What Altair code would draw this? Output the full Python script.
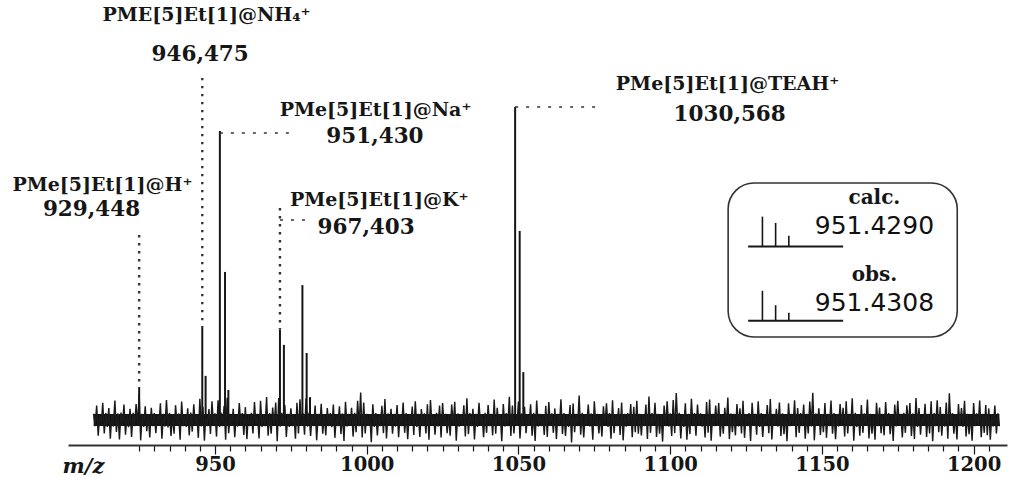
import altair as alt
import pandas as pd

# ---------------- data ----------------
# noise envelope, one value per m/z unit from 910 to 1208
noise_start = 910
noise_hi = [
    2.0, 4.6, 1.8, 5.5, 2.2, 3.8, 1.9, 6.2, 2.1, 2.4, 4.9, 1.7, 3.6, 2.3, 5.1, 8.4, 2.0, 4.4, 1.9, 3.9,
    2.2, 1.8, 5.3, 2.0, 6.4, 2.3, 1.9, 4.7, 2.1, 5.9, 1.8, 3.7, 2.4, 5.0, 1.9, 6.8, 4.2, 2.0, 3.5, 6.0,
    2.1, 6.3, 2.4, 4.5, 7.1, 2.0, 3.6, 1.8, 5.4, 2.2, 4.1, 1.9, 2.3, 5.7, 2.0, 6.1, 1.8, 7.3, 2.2, 4.0,
    5.6, 7.0, 2.3, 4.8, 2.0, 3.7, 1.9, 5.5, 6.6, 2.1, 6.9, 2.4, 1.8, 4.6, 2.0, 5.2, 1.9, 3.8, 2.2, 4.9,
    1.8, 4.4, 2.1, 5.8, 2.0, 3.9, 2.3, 6.1, 8.8, 5.6, 2.0, 1.9, 5.0, 2.2, 1.8, 4.5, 6.7, 2.1, 3.6, 2.0,
    4.8, 1.9, 5.6, 2.2, 1.8, 4.3, 6.0, 2.0, 3.5, 2.1, 5.0, 6.4, 1.9, 2.3, 4.6, 5.4, 2.0, 1.8, 4.9, 5.8,
    2.1, 1.9, 4.7, 6.9, 2.2, 3.6, 2.0, 5.5, 1.8, 2.3, 4.8, 2.0, 6.5, 3.9, 1.9, 5.1, 2.2, 7.4, 4.6, 2.0,
    5.9, 2.1, 4.2, 1.9, 5.0, 2.3, 6.2, 2.0, 1.8, 4.5, 5.7, 2.1, 3.7, 2.0, 6.6, 2.2, 1.9, 4.8, 5.3, 2.0,
    7.8, 2.3, 1.9, 4.9, 2.1, 6.0, 2.0, 1.8, 4.4, 5.3, 2.2, 6.3, 1.9, 3.8, 5.6, 2.0, 2.2, 5.1, 4.2, 6.1,
    2.0, 1.9, 4.9, 7.5, 2.2, 5.5, 2.0, 1.8, 4.6, 6.0, 2.1, 6.4, 8.6, 2.3, 1.9, 5.3, 2.0, 6.8, 2.2, 4.9,
    2.1, 1.9, 5.7, 6.5, 2.0, 4.6, 5.4, 1.8, 3.9, 7.2, 2.1, 2.0, 5.1, 3.7, 6.1, 1.9, 2.2, 5.5, 2.0, 6.0,
    2.2, 1.8, 4.8, 6.7, 2.0, 3.6, 5.6, 2.1, 1.9, 5.3, 2.0, 6.3, 3.8, 2.2, 4.9, 2.0, 5.9, 8.7, 2.1, 3.7,
    1.9, 5.4, 2.0, 6.2, 2.2, 1.8, 5.1, 3.9, 6.0, 2.0, 6.9, 2.3, 1.9, 4.8, 2.1, 6.5, 2.0, 1.8, 5.5, 4.0,
    2.0, 5.7, 2.2, 1.9, 4.9, 6.1, 2.0, 2.3, 4.7, 5.4, 2.1, 7.0, 3.8, 1.9, 5.2, 2.0, 6.0, 2.2, 6.3, 4.1,
    2.0, 5.6, 8.5, 2.2, 1.9, 5.1, 3.8, 6.1, 2.0, 1.8, 5.4, 2.1, 6.2, 2.0, 4.8, 3.7, 1.9, 4.6, 2.1,
]
noise_lo = [
    -2.0, -5.0, -1.9, -4.3, -2.2, -6.0, -2.1, -3.8, -6.2, -1.9, -4.7, -2.3, -5.4, -2.0, -1.8, -6.5, -2.2, -3.6, -5.6, -2.0,
    -4.2, -1.9, -6.0, -2.1, -2.4, -5.1, -4.4, -1.8, -6.3, -2.0, -2.2, -4.9, -3.7, -1.9, -5.7, -2.1, -6.6, -2.0, -4.5, -1.8,
    -5.3, -2.2, -2.0, -6.3, -4.2, -1.9, -5.5, -2.1, -1.8, -4.8, -6.1, -2.0, -4.3, -1.9, -5.9, -2.2, -2.0, -5.0, -4.4, -1.9,
    -6.8, -2.1, -1.9, -5.4, -2.2, -2.0, -6.0, -4.3, -1.8, -4.7, -2.1, -5.1, -2.0, -6.5, -1.9, -4.4, -4.9, -2.0, -2.3, -5.7,
    -2.0, -4.5, -6.7, -2.1, -1.9, -5.3, -3.9, -2.0, -5.6, -4.3, -1.8, -7.1, -2.2, -4.9, -2.0, -4.2, -5.9, -1.9, -4.4, -2.1,
    -5.5, -2.0, -4.1, -6.1, -1.9, -4.8, -2.2, -5.4, -2.0, -4.3, -6.3, -1.8, -4.7, -2.1, -5.6, -2.0, -4.2, -5.0, -1.9, -6.6,
    -2.1, -1.9, -5.3, -4.5, -2.0, -6.2, -2.2, -1.8, -5.5, -4.1, -2.0, -4.9, -4.4, -1.9, -6.8, -2.1, -2.0, -5.1, -4.3, -1.9,
    -5.9, -2.0, -4.2, -1.9, -5.0, -6.7, -2.1, -2.0, -4.8, -5.4, -1.8, -4.1, -6.1, -2.0, -4.5, -5.1, -2.2, -7.2, -3.9, -2.0,
    -4.7, -5.6, -1.9, -2.1, -6.3, -2.0, -4.3, -5.3, -1.9, -2.2, -6.0, -4.2, -2.0, -4.8, -6.5, -2.1, -1.9, -5.5, -3.9, -4.4,
    -4.9, -2.0, -6.1, -4.1, -1.9, -5.4, -4.4, -6.9, -2.0, -2.1, -5.1, -4.2, -1.9, -5.9, -2.2, -6.3, -4.5, -2.0, -5.0, -1.9,
    -2.1, -5.6, -4.1, -6.6, -2.0, -1.9, -5.3, -4.4, -2.0, -6.1, -3.9, -4.9, -2.1, -4.3, -5.7, -2.0, -6.7, -1.9, -4.7, -2.2,
    -5.4, -2.0, -4.2, -6.2, -1.9, -2.1, -5.1, -4.5, -6.8, -2.0, -1.9, -5.5, -4.1, -2.0, -6.0, -4.3, -2.1, -6.5, -1.9, -4.8,
    -3.9, -5.7, -2.0, -4.4, -6.1, -2.1, -1.9, -5.3, -4.3, -2.0, -6.6, -2.2, -5.0, -4.1, -1.9, -5.9, -4.4, -6.3, -2.0, -4.2,
    -4.9, -2.0, -4.5, -6.7, -2.1, -1.9, -5.6, -4.1, -2.0, -5.1, -6.1, -2.2, -4.7, -1.9, -5.4, -4.3, -6.8, -2.0, -3.9, -5.0,
    -2.1, -6.0, -1.9, -4.4, -6.2, -2.0, -2.2, -5.3, -4.5, -6.6, -2.0, -1.9, -5.5, -4.1, -4.9, -6.3, -2.1, -4.3, -2.0,
]
noise_floor = 1.9   # half-thickness of the dense noise core

# signal peaks (m/z, relative intensity)
peak_mz = [925.0, 945.8, 946.9, 951.6, 953.3, 954.4, 971.4, 972.7, 978.8, 980.2, 981.3, 1048.9, 1050.4, 1051.6]
peak_int = [10.5, 29.7, 14.1, 92.3, 47.3, 9.6, 28.8, 24.0, 43.1, 21.4, 7.3, 100.0, 60.4, 15.3]

# annotations
ion_labels = ["PME[5]Et[1]@NH\u2084\u207a", "PMe[5]Et[1]@Na\u207a", "PMe[5]Et[1]@H\u207a",
              "PMe[5]Et[1]@K\u207a", "PMe[5]Et[1]@TEAH\u207a"]
ion_masses = ["946,475", "951,430", "929,448", "967,403", "1030,568"]
label_x = [947.2, 1002.9, 912.9, 1004.1, 1118.9]
label_y = [129.4, 99.0, 75.1, 70.3, 107.3]
mass_x = [945.1, 1002.7, 909.3, 999.8, 1119.6]
mass_y = [116.6, 90.4, 67.1, 61.3, 97.4]

# leader lines: vertical dotted and horizontal dashed
vlead_x = [945.8, 925.0, 971.4]
vlead_y1 = [109.3, 59.1, 67.7]
vlead_y2 = [29.7, 10.5, 28.8]
hlead_y = [91.7, 100.0, 63.9]
hlead_x1 = [951.6, 1048.9, 971.4]
hlead_x2 = [976.4, 1077.6, 981.3]

# inset: isotope patterns
inset_titles = ["calc.", "obs."]
inset_values = ["951.4290", "951.4308"]
iso_offsets = [0, 1, 2]
iso_calc = [100, 79, 36]
iso_obs = [100, 52, 27]

tick_values = list(range(925, 1210, 5))

# ---------------- layout constants (data coordinates) ----------------
XDOM = [901.55, 1211.0]
YDOM = [-7.99, 134.19]
BOX = dict(x=1119.1, x2=1194.6, y=75.7, y2=26.5)
INSET_BASE = [55.4, 31.7]         # baselines of calc / obs mini spectra
INSET_X0, INSET_X1 = 1125.7, 1157.0
ISO_X = 1130.4
ISO_STEP = 4.35
ISO_SCALE = 0.0958
INSET_TEXT_X = 1167.3
INSET_TITLE_Y = [70.9, 46.3]
INSET_VAL_Y = [62.1, 37.5]

INK = "#161616"
SERIF = "DejaVu Serif"

xs = alt.Scale(domain=XDOM, nice=False, zero=False)
ys = alt.Scale(domain=YDOM, nice=False, zero=False)

# ---------------- tables ----------------
rows = []
for i, (hi, lo) in enumerate(zip(noise_hi, noise_lo)):
    m = noise_start + i
    rows.append({"mz": m, "v": hi, "o": 2 * i})
    rows.append({"mz": m + 0.5, "v": lo, "o": 2 * i + 1})
noise_df = pd.DataFrame(rows)
core_df = pd.DataFrame({"mz": [noise_start, noise_start + len(noise_hi) - 0.5],
                        "lo": [-noise_floor] * 2, "hi": [noise_floor] * 2})

peaks_df = pd.DataFrame({"mz": peak_mz, "v": peak_int, "b": [0.0] * len(peak_mz)})
lab_df = pd.DataFrame({"t": ion_labels, "x": label_x, "y": label_y})
mass_df = pd.DataFrame({"t": ion_masses, "x": mass_x, "y": mass_y})
vlead_df = pd.DataFrame({"x": vlead_x, "y": vlead_y1, "y2": vlead_y2})
hlead_df = pd.DataFrame({"y": hlead_y, "x": hlead_x1, "x2": hlead_x2})
box_df = pd.DataFrame([BOX])

iso_rows = []
for k, pattern in enumerate([iso_calc, iso_obs]):
    for off, val in zip(iso_offsets, pattern):
        iso_rows.append({"x": ISO_X + off * ISO_STEP, "y": INSET_BASE[k],
                         "y2": INSET_BASE[k] + val * ISO_SCALE})
iso_df = pd.DataFrame(iso_rows)
base_df = pd.DataFrame({"x": [INSET_X0] * 2, "x2": [INSET_X1] * 2, "y": INSET_BASE})
ititle_df = pd.DataFrame({"t": inset_titles, "x": [INSET_TEXT_X] * 2, "y": INSET_TITLE_Y})
ival_df = pd.DataFrame({"t": inset_values, "x": [INSET_TEXT_X] * 2, "y": INSET_VAL_Y})

# ---------------- layers ----------------
x_axis = alt.Axis(
    values=tick_values, tickCount=500, format="d", title="m/z",
    labelExpr="datum.value % 50 === 0 ? datum.label : ''",
    labelOverlap=False, labelFlush=False, labelBound=False,
    labelFont=SERIF, labelFontSize=19.5, labelFontWeight="bold", labelColor=INK,
    labelPadding=1,
    tickColor=INK, tickWidth=1.2,
    tickSize={"condition": {"test": "datum.value % 50 === 0", "value": 9}, "value": 6},
    domainColor="#333333", domainWidth=2, grid=False,
    titleFont=SERIF, titleFontSize=21, titleFontStyle="italic", titleFontWeight="bold",
    titleColor=INK, titleAngle=0, titleAlign="left", titleBaseline="middle",
    titleX=-6, titleY=21,
)

core = alt.Chart(core_df).mark_area(color="#111111").encode(
    x=alt.X("mz:Q", scale=xs, axis=x_axis),
    y=alt.Y("lo:Q", scale=ys, axis=None), y2="hi:Q")

noise = alt.Chart(noise_df).mark_line(color="#1a1a1a", strokeWidth=1.45, strokeJoin="miter").encode(
    x=alt.X("mz:Q", scale=xs),
    y=alt.Y("v:Q", scale=ys),
    order="o:Q",
)

peaks = alt.Chart(peaks_df).mark_rule(color=INK, strokeWidth=2).encode(
    x=alt.X("mz:Q", scale=xs), y=alt.Y("b:Q", scale=ys), y2="v:Q")

vlead = alt.Chart(vlead_df).mark_rule(color="#333333", strokeWidth=2.4, strokeDash=[2.4, 5.6]).encode(
    x=alt.X("x:Q", scale=xs), y=alt.Y("y:Q", scale=ys), y2="y2:Q")

hlead = alt.Chart(hlead_df).mark_rule(color="#333333", strokeWidth=1.6, strokeDash=[3, 8]).encode(
    x=alt.X("x:Q", scale=xs), x2="x2:Q", y=alt.Y("y:Q", scale=ys))

labels = alt.Chart(lab_df).mark_text(font=SERIF, fontSize=19, fontWeight="bold", color=INK,
                                     align="center", baseline="middle").encode(
    x=alt.X("x:Q", scale=xs), y=alt.Y("y:Q", scale=ys), text="t:N")

masses = alt.Chart(mass_df).mark_text(font=SERIF, fontSize=21.5, fontWeight="bold", color=INK,
                                      align="center", baseline="middle").encode(
    x=alt.X("x:Q", scale=xs), y=alt.Y("y:Q", scale=ys), text="t:N")

box = alt.Chart(box_df).mark_rect(fill=None, stroke="#333333", strokeWidth=1.6, cornerRadius=26).encode(
    x=alt.X("x:Q", scale=xs), x2="x2:Q", y=alt.Y("y:Q", scale=ys), y2="y2:Q")

iso = alt.Chart(iso_df).mark_rule(color=INK, strokeWidth=1.6).encode(
    x=alt.X("x:Q", scale=xs), y=alt.Y("y:Q", scale=ys), y2="y2:Q")

ibase = alt.Chart(base_df).mark_rule(color=INK, strokeWidth=2).encode(
    x=alt.X("x:Q", scale=xs), x2="x2:Q", y=alt.Y("y:Q", scale=ys))

ititle = alt.Chart(ititle_df).mark_text(font=SERIF, fontSize=20, fontWeight="bold", color=INK,
                                        align="center", baseline="middle").encode(
    x=alt.X("x:Q", scale=xs), y=alt.Y("y:Q", scale=ys), text="t:N")

ival = alt.Chart(ival_df).mark_text(font="DejaVu Sans", fontSize=25, color="#111111",
                                    align="center", baseline="middle").encode(
    x=alt.X("x:Q", scale=xs), y=alt.Y("y:Q", scale=ys), text="t:N")

chart = alt.layer(core, noise, peaks, vlead, hlead, labels, masses, box, iso, ibase, ititle, ival).properties(
    width=939, height=445,
    autosize=alt.AutoSizeParams(type="none"),
    padding={"left": 68, "top": 0, "right": 3, "bottom": 32},
    background="white",
).configure_view(stroke=None)

chart.save("out.html", embed_options={"renderer": "svg", "actions": False})
